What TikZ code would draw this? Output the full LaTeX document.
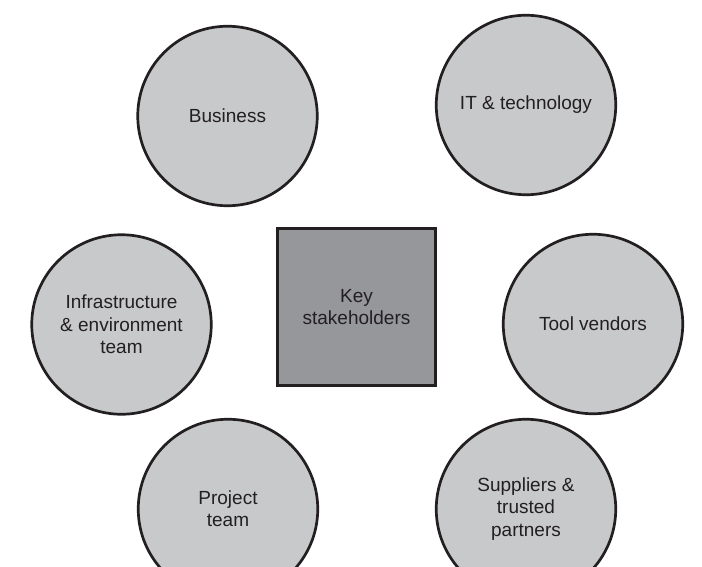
\documentclass[tikz,border=0pt]{standalone}
\usepackage{fontspec}
\setmainfont{Liberation Sans}
\definecolor{circfill}{RGB}{200,201,203}
\definecolor{boxfill}{RGB}{150,151,155}
\definecolor{inkline}{RGB}{35,31,32}
\begin{document}
\begin{tikzpicture}[x=1pt,y=-1pt,
  group/.style={circle,draw=inkline,fill=circfill,line width=2.7pt,minimum size=179.5pt,inner sep=0pt,
    align=center,text=inkline,font=\fontsize{19}{22.4}\selectfont},
  centrebox/.style={rectangle,draw=inkline,fill=boxfill,line width=3.4pt,minimum width=157.5pt,minimum height=157pt,inner sep=0pt,
    align=center,text=inkline,font=\fontsize{19}{22.4}\selectfont}]
\useasboundingbox (0,0) rectangle (702,567);
\clip (0,0) rectangle (702,567);
\fill[white] (0,0) rectangle (702,567);
\node[group] (business) at (227.5,116) {Business};
\node[group] (it) at (526,105) {IT \& technology};
\node[group] (infra) at (121.5,324.5) {Infrastructure\\\& environment\\team};
\node[centrebox] (key) at (356.5,307) {Key\\stakeholders};
\node[group] (tools) at (593,324) {Tool vendors};
\node[group] (project) at (228,509) {Project\\team};
\node[group] (suppliers) at (526,509) {Suppliers \&\\trusted\\partners};
\end{tikzpicture}
\end{document}
